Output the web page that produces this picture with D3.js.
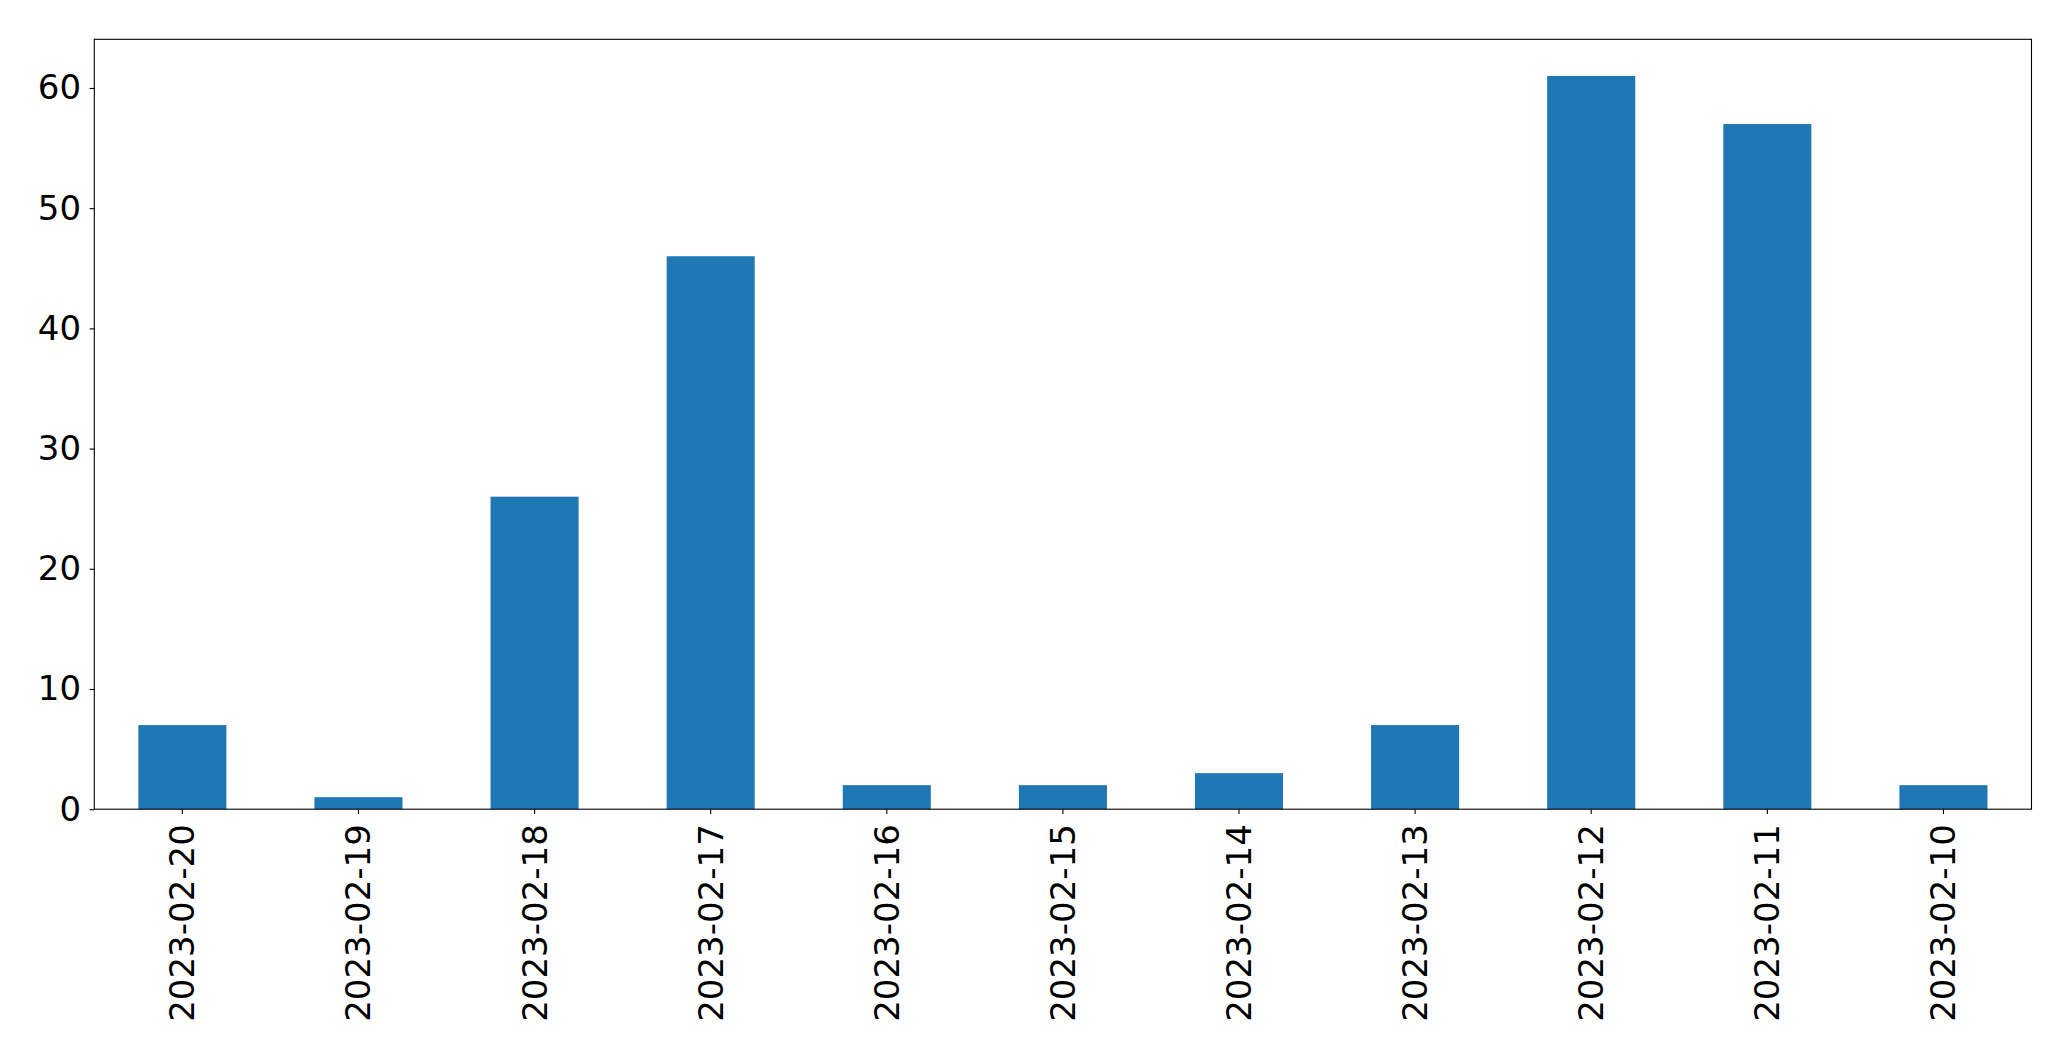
<!DOCTYPE html>
<html><head><meta charset="utf-8">
<script src="https://cdn.jsdelivr.net/npm/d3@7"></script>
<style>html,body{margin:0;padding:0;background:#fff;}svg{display:block;}</style>
</head><body>
<script>
const categories = ["2023-02-20","2023-02-19","2023-02-18","2023-02-17","2023-02-16","2023-02-15","2023-02-14","2023-02-13","2023-02-12","2023-02-11","2023-02-10"];
const values = [7, 1, 26, 46, 2, 2, 3, 7, 61, 57, 2];
const yTicks = [0, 10, 20, 30, 40, 50, 60];

const W = 2071, H = 1061;
const m = {left: 94.3, right: W - 2031.5, top: 39.3, bottom: H - 809.2};
const svg = d3.select("body").append("svg").attr("width", W).attr("height", H);
const iw = W - m.left - m.right, ih = H - m.top - m.bottom;
const g = svg.append("g").attr("transform", `translate(${m.left},${m.top})`);

const x = d3.scaleBand().domain(categories).range([0, iw]).paddingInner(0.5).paddingOuter(0.25);
const y = d3.scaleLinear().domain([0, d3.max(values) * 1.05]).range([ih, 0]);

g.selectAll("rect.bar").data(values).join("rect").attr("class","bar")
  .attr("x", (d,i) => x(categories[i]))
  .attr("width", x.bandwidth())
  .attr("y", d => y(d))
  .attr("height", d => y(0) - y(d))
  .attr("fill", "#1f77b4");

const font = "'DejaVu Sans', sans-serif";
const fs = 34;

const ya = g.append("g").call(d3.axisLeft(y).tickValues(yTicks).tickSize(4.7).tickPadding(8.5).tickFormat(d3.format("d")));
ya.select(".domain").remove();
ya.selectAll("line").attr("stroke", "#000").attr("stroke-width", 1.1);
ya.selectAll("text").attr("font-family", font).attr("font-size", fs).attr("fill", "#000");

const xa = g.append("g").attr("transform", `translate(0,${ih})`).call(d3.axisBottom(x).tickSize(4.7).tickPadding(0));
xa.select(".domain").remove();
xa.selectAll("line").attr("stroke", "#000").attr("stroke-width", 1.1);
xa.selectAll("text")
  .attr("font-family", font).attr("font-size", fs).attr("fill", "#000")
  .attr("text-anchor", "end").attr("dy", null).attr("y", 0)
  .attr("dominant-baseline", "central")
  .attr("transform", "translate(0,15) rotate(-90)");

g.append("rect").attr("x", 0).attr("y", 0).attr("width", iw).attr("height", ih)
  .attr("fill", "none").attr("stroke", "#000").attr("stroke-width", 1.1);
</script>
</body></html>
